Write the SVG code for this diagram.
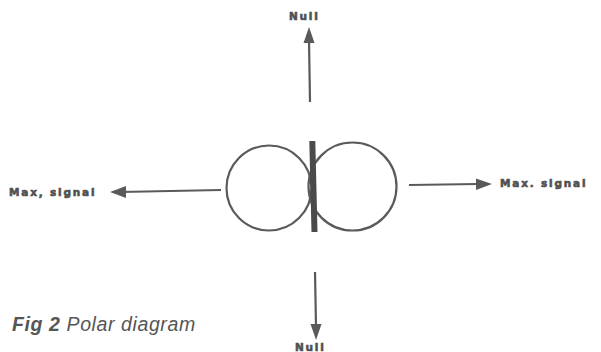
<svg xmlns="http://www.w3.org/2000/svg" width="601" height="352" viewBox="0 0 601 352">
<defs>
<style>
.ln{stroke:#5a5a5a;stroke-width:2.2;fill:none}
.lbl{font-family:"DejaVu Sans","Liberation Sans",sans-serif;font-weight:bold;font-size:10.5px;fill:#505050;stroke:#505050;stroke-width:0.6;letter-spacing:1.8px}
.cap{font-family:"Liberation Sans",Arial,sans-serif;font-style:italic;font-size:19.5px;fill:#555;letter-spacing:0.6px}
</style>
</defs>
<rect width="601" height="352" fill="#fff"/>
<g id="pattern">
<circle cx="269" cy="188" r="42.5" class="ln"/>
<circle cx="352.5" cy="186.5" r="44" class="ln"/>
<line x1="312.3" y1="141" x2="314.5" y2="232" stroke="#4a4a4a" stroke-width="6"/>
</g>
<g id="connectors">
<line x1="221" y1="190" x2="120" y2="192" class="ln"/>
<path d="M110,192 L126,186 L126,198 z" fill="#5a5a5a"/>
<line x1="409" y1="185" x2="478" y2="184" class="ln"/>
<path d="M492,184 L476,178.5 L476,190 z" fill="#5a5a5a"/>
<line x1="310" y1="102" x2="309" y2="40" class="ln"/>
<path d="M309,27 L303.5,43 L314.5,43 z" fill="#5a5a5a"/>
<line x1="315" y1="272" x2="316" y2="326" class="ln"/>
<path d="M316,340 L310.5,324 L321.5,324 z" fill="#5a5a5a"/>
</g>
<g id="labels">
<text x="289" y="20" class="lbl">Null</text>
<text x="295" y="351" class="lbl">Null</text>
<text x="9" y="196" class="lbl">Max, signal</text>
<text x="500" y="187" class="lbl">Max. signal</text>
</g>
<g id="caption">
<text x="12" y="331" class="cap"><tspan font-weight="bold">Fig 2</tspan> Polar diagram</text>
</g>
</svg>
